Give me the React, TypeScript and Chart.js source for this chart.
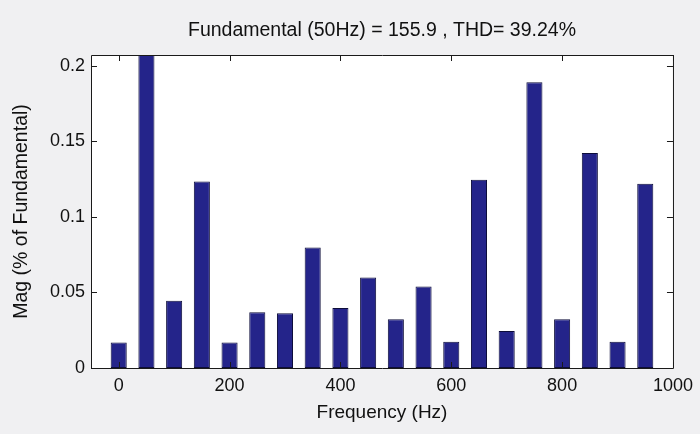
import React, { useEffect, useRef } from "react";
import { Chart, registerables } from "chart.js";

Chart.register(...registerables);

const frequencies = [0, 50, 100, 150, 200, 250, 300, 350, 400, 450, 500, 550, 600, 650, 700, 750, 800, 850, 900, 950];
const magnitudes = [0.0168, 1.0, 0.0444, 0.1234, 0.0168, 0.0369, 0.0362, 0.0797, 0.0397, 0.0598, 0.0322, 0.0539, 0.0174, 0.1245, 0.0245, 0.189, 0.0322, 0.1422, 0.0174, 0.1219];
const xTicks = [0, 200, 400, 600, 800, 1000];
const yTicks = [0, 0.05, 0.1, 0.15, 0.2];
const titleText = "Fundamental (50Hz) = 155.9 , THD= 39.24%";
const xLabel = "Frequency (Hz)";
const yLabel = "Mag (% of Fundamental)";

const FONT = "'Liberation Sans', Arial, sans-serif";

const boxPlugin = {
  id: "matlabBox",
  beforeDraw(chart: any) {
    const { ctx, chartArea } = chart;
    ctx.save();
    ctx.fillStyle = "#f0f0f2";
    ctx.fillRect(0, 0, chart.width, chart.height);
    ctx.fillStyle = "#ffffff";
    ctx.fillRect(chartArea.left, chartArea.top, chartArea.right - chartArea.left, chartArea.bottom - chartArea.top);
    ctx.restore();
  },
  afterDatasetsDraw(chart: any) {
    const { ctx, chartArea, scales } = chart;
    const { left, right, top, bottom } = chartArea;
    ctx.save();
    ctx.strokeStyle = "#1a1a1a";
    ctx.lineWidth = 1;
    ctx.beginPath();
    ctx.rect(left + 0.5, top + 0.5, right - left, bottom - top);
    ctx.stroke();
    const len = 6;
    ctx.beginPath();
    yTicks.forEach((v) => {
      const y = Math.round(scales.y.getPixelForValue(v)) + 0.5;
      ctx.moveTo(left, y);
      ctx.lineTo(left + len, y);
      ctx.moveTo(right, y);
      ctx.lineTo(right - len, y);
    });
    xTicks.forEach((v) => {
      const x = Math.round(scales.x.getPixelForValue(v)) + 0.5;
      ctx.moveTo(x, bottom);
      ctx.lineTo(x, bottom - len);
      ctx.moveTo(x, top);
      ctx.lineTo(x, top + len);
    });
    ctx.stroke();
    ctx.restore();
  },
};

export default function App() {
  const canvasRef = useRef<HTMLCanvasElement | null>(null);

  useEffect(() => {
    document.body.style.margin = "0";
    const canvas = canvasRef.current;
    if (!canvas) return;
    const chart = new Chart(canvas, {
      type: "bar",
      data: {
        datasets: [
          {
            data: frequencies.map((f, i) => ({ x: f, y: magnitudes[i] })),
            backgroundColor: "#24248a",
            borderColor: "#0d0d3a",
            borderWidth: 1,
            borderSkipped: false,
            barPercentage: 0.58,
            categoryPercentage: 1,
          },
        ],
      },
      options: {
        animation: false,
        responsive: false,
        maintainAspectRatio: false,
        layout: { padding: { top: 0, right: 18, left: 0, bottom: 0 } },
        plugins: {
          legend: { display: false },
          tooltip: { enabled: false },
          title: {
            display: true,
            text: titleText,
            fullSize: false,
            color: "#111",
            font: { family: FONT, size: 19.5, weight: "normal" as any },
            padding: { top: 19, bottom: 12.6 },
          },
        },
        scales: {
          x: {
            type: "linear",
            min: -50,
            max: 1000,
            offset: false,
            grid: { display: false, drawTicks: false },
            border: { display: false },
            ticks: {
              includeBounds: false,
              stepSize: 200,
              padding: 7,
              color: "#111",
              font: { family: FONT, size: 18 },
              maxRotation: 0,
              callback: (v: any) => String(v),
            },
            title: {
              display: true,
              text: xLabel,
              color: "#111",
              font: { family: FONT, size: 19 },
              padding: { top: 0, bottom: 9.6 },
            },
            afterFit(scale: any) {
              scale.height = 66;
            },
          },
          y: {
            type: "linear",
            min: 0,
            max: 0.207,
            grid: { display: false, drawTicks: false },
            border: { display: false },
            ticks: {
              includeBounds: false,
              stepSize: 0.05,
              padding: 6,
              color: "#111",
              font: { family: FONT, size: 18 },
              callback: (v: any) => String(Number(Number(v).toFixed(3))),
            },
            title: {
              display: true,
              text: yLabel,
              color: "#111",
              font: { family: FONT, size: 19.5 },
              padding: { top: 10, bottom: 0 },
            },
            afterFit(scale: any) {
              scale.width = 91;
            },
          },
        },
      },
      plugins: [boxPlugin],
    });
    return () => chart.destroy();
  }, []);

  return (
    <div style={{ position: "relative", width: 700, height: 434 }}>
      <canvas ref={canvasRef} width={700} height={434} />
    </div>
  );
}
